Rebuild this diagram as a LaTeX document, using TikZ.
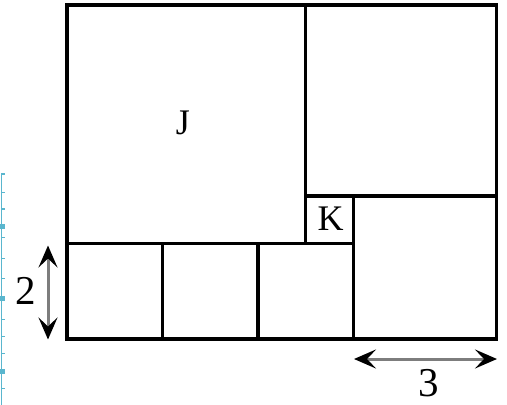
\documentclass[tikz,border=0pt]{standalone}
\usepackage{fontspec}
\setmainfont{Liberation Serif}
\usetikzlibrary{arrows.meta}
\definecolor{rulercyan}{RGB}{90,182,206}
\definecolor{shaftgray}{RGB}{125,125,125}
\tikzset{
  edgeline/.style={line width=3.4pt, black, line cap=rect},
  dimarrow/.style={line width=3pt, shaftgray,
    {Stealth[color=black,length=22pt,width=19pt,inset=9pt]}-{Stealth[color=black,length=22pt,width=19pt,inset=9pt]}},
  boxlabel/.style={anchor=base, inner sep=0pt, font=\fontsize{36}{40}\selectfont},
  dimlabel/.style={anchor=base, inner sep=0pt, font=\fontsize{41}{45}\selectfont},
  rulerline/.style={line width=1.4pt, rulercyan},
  rulertick/.style={line width=1.2pt, rulercyan}
}
\begin{document}
\begin{tikzpicture}[x=1pt,y=-1pt]
\useasboundingbox (0,0) rectangle (507,405);
% ruler artefact on left
\draw[rulerline] (1.5,173) -- (1.5,405);
\foreach \t in {174,192.3,209,237.3,258.3,278.3,319.3,336.7,353.3,388.7}
  \draw[rulertick] (1.5,\t) -- (5,\t);
\foreach \t in {226.7,298.3,371}
  \fill[rulercyan] (0,\t-2.5) rectangle (4.5,\t+2.5);
% squares
\draw[edgeline] (67,5) rectangle (496.3,338.9);
\draw[edgeline] (305.5,5) -- (305.5,243.5);
\draw[edgeline] (67,243.5) -- (353.2,243.5);
\draw[edgeline] (305.5,195.8) -- (496.3,195.8);
\draw[edgeline] (353.2,195.8) -- (353.2,338.9);
\draw[edgeline] (162.4,243.5) -- (162.4,338.9);
\draw[edgeline] (257.8,243.5) -- (257.8,338.9);
% labels
\node[boxlabel] (J) at (183,134) {J};
\node[boxlabel] (K) at (330.5,230) {K};
% dimension arrows
\coordinate (v1) at (48,245.5);
\coordinate (v2) at (48,339.5);
\coordinate (h1) at (354,359);
\coordinate (h2) at (497,359);
\draw[dimarrow] (v1) -- (v2);
\draw[dimarrow] (h1) -- (h2);
\node[dimlabel] (two) at (26,304) {2};
\node[dimlabel] (three) at (429,396.5) {3};
\end{tikzpicture}
\end{document}
